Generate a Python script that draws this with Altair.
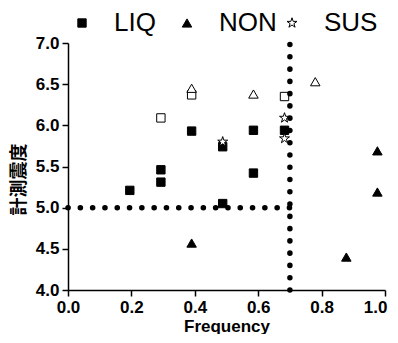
import altair as alt
import pandas as pd

# LIQ filled squares
liq_x = [0.195, 0.293, 0.293, 0.390, 0.488, 0.488, 0.585, 0.585, 0.683]
liq_y = [5.21, 5.31, 5.46, 5.93, 5.74, 5.05, 5.94, 5.42, 5.94]
# LIQ open squares
liq_open_x = [0.293, 0.390, 0.683]
liq_open_y = [6.09, 6.37, 6.35]
# NON filled triangles
non_x = [0.390, 0.878, 0.976, 0.976]
non_y = [4.57, 4.40, 5.69, 5.19]
# NON open triangles
non_open_x = [0.390, 0.585, 0.780]
non_open_y = [6.45, 6.38, 6.53]
# SUS stars (open)
sus_x = [0.488, 0.683, 0.683]
sus_y = [5.80, 6.09, 5.84]

categories = ["LIQ", "NON", "SUS"]
threshold_freq = 0.7
threshold_int = 5.0

rows = []
for x, y in zip(liq_x, liq_y):
    rows.append({"freq": x, "val": y, "cat": "LIQ", "open": False})
for x, y in zip(non_x, non_y):
    rows.append({"freq": x, "val": y, "cat": "NON", "open": False})
for x, y in zip(sus_x, sus_y):
    rows.append({"freq": x, "val": y, "cat": "SUS", "open": False})
for x, y in zip(liq_open_x, liq_open_y):
    rows.append({"freq": x, "val": y, "cat": "LIQ", "open": True})
for x, y in zip(non_open_x, non_open_y):
    rows.append({"freq": x, "val": y, "cat": "NON", "open": True})
df = pd.DataFrame(rows)

star = ("M0,-1L0.2245,-0.309L0.951,-0.309L0.363,0.118L0.588,0.809L0,0.382"
        "L-0.588,0.809L-0.363,0.118L-0.951,-0.309L-0.2245,-0.309Z")

x_scale = alt.Scale(domain=[0, 1], nice=False, zero=False)
y_scale = alt.Scale(domain=[4, 7], nice=False, zero=False)
shape_scale = alt.Scale(domain=categories, range=["square", "triangle-up", star])
fill_scale = alt.Scale(domain=categories, range=["black", "black", "white"])
stroke_scale = alt.Scale(domain=categories, range=["black", "black", "black"])
size_scale = alt.Scale(domain=categories, range=[70, 110, 75])

x_ticks = [round(i * 0.1, 1) for i in range(11)]
y_ticks = [4 + i * 0.25 for i in range(13)]

x_axis = alt.Axis(
    values=x_ticks,
    labelExpr="round(datum.value*10) % 2 == 0 ? format(datum.value, '.1f') : ''",
    tickSize={"condition": {"test": "round(datum.value*10) % 2 == 0", "value": 6}, "value": 3},
    labelAlign={"condition": {"test": "datum.value >= 1", "value": "right"}, "value": "center"},
    labelOffset={"condition": {"test": "datum.value >= 1", "value": 2}, "value": 0},
    title="Frequency", grid=False,
)
y_axis = alt.Axis(
    values=y_ticks,
    labelExpr="round(datum.value*4) % 2 == 0 ? format(datum.value, '.1f') : ''",
    tickSize={"condition": {"test": "round(datum.value*4) % 2 == 0", "value": 6}, "value": 3},
    title="計測震度", grid=False,
    titleFont="Noto Sans CJK JP", titleFontSize=18, titleFontWeight="bold",
    titleAngle=-90, titleX=-49, titleY=136, titleAlign="center", titleBaseline="middle",
)


def make_legend():
    return alt.Legend(
        title=None, orient="none", direction="horizontal", columns=3,
        legendX=1, legendY=-33, gridAlign="all", columnPadding=2,
        labelFont="Liberation Sans", labelFontSize=26, labelColor="black",
        labelOffset=19, symbolStrokeColor="black",
        symbolStrokeWidth=1, padding=0,
    )


base = alt.Chart(df)

filled = base.transform_filter("!datum.open").mark_point(
    filled=True, strokeWidth=1, opacity=1
).encode(
    x=alt.X("freq:Q", scale=x_scale, axis=x_axis),
    y=alt.Y("val:Q", scale=y_scale, axis=y_axis),
    shape=alt.Shape("cat:N", scale=shape_scale, legend=make_legend()),
    fill=alt.Fill("cat:N", scale=fill_scale, legend=make_legend()),
    stroke=alt.Stroke("cat:N", scale=stroke_scale, legend=make_legend()),
    size=alt.Size("cat:N", scale=size_scale, legend=make_legend()),
)

opened = base.transform_filter("datum.open").mark_point(
    filled=True, stroke="black", strokeWidth=1, fill="white", opacity=1
).encode(
    x=alt.X("freq:Q", scale=x_scale),
    y=alt.Y("val:Q", scale=y_scale),
    shape=alt.Shape("cat:N", scale=shape_scale, legend=None),
    size=alt.Size("cat:N", scale=size_scale, legend=None),
)

hline_df = pd.DataFrame({"x": [0.0], "x2": [threshold_freq], "y": [threshold_int]})
vline_df = pd.DataFrame({"x": [threshold_freq], "y": [4.0], "y2": [7.0]})

hline = alt.Chart(hline_df).mark_rule(
    color="black", strokeWidth=5.5, strokeCap="round", strokeDash=[0.1, 12.2]
).encode(x=alt.X("x:Q", scale=x_scale), x2="x2:Q", y=alt.Y("y:Q", scale=y_scale))

vline = alt.Chart(vline_df).mark_rule(
    color="black", strokeWidth=5.5, strokeCap="round", strokeDash=[0.1, 12.17]
).encode(x=alt.X("x:Q", scale=x_scale), y=alt.Y("y:Q", scale=y_scale), y2="y2:Q")

chart = alt.layer(filled, opened, hline, vline).properties(
    width=317, height=247,
    autosize=alt.AutoSizeParams(type="none"),
    padding={"left": 60, "top": 35, "right": 5, "bottom": 44},
).configure_view(stroke=None).configure_axis(
    domainColor="black", domainWidth=1.5, tickColor="black", tickWidth=1.5,
    labelFont="Liberation Sans", labelFontSize=17, labelFontWeight="bold",
    labelColor="black", labelPadding=3,
    titleFont="Liberation Sans", titleFontSize=17, titleFontWeight="bold",
    titleColor="black",
).configure_axisX(titlePadding=3)

chart.save("out.html", embed_options={"renderer": "svg", "actions": False})
